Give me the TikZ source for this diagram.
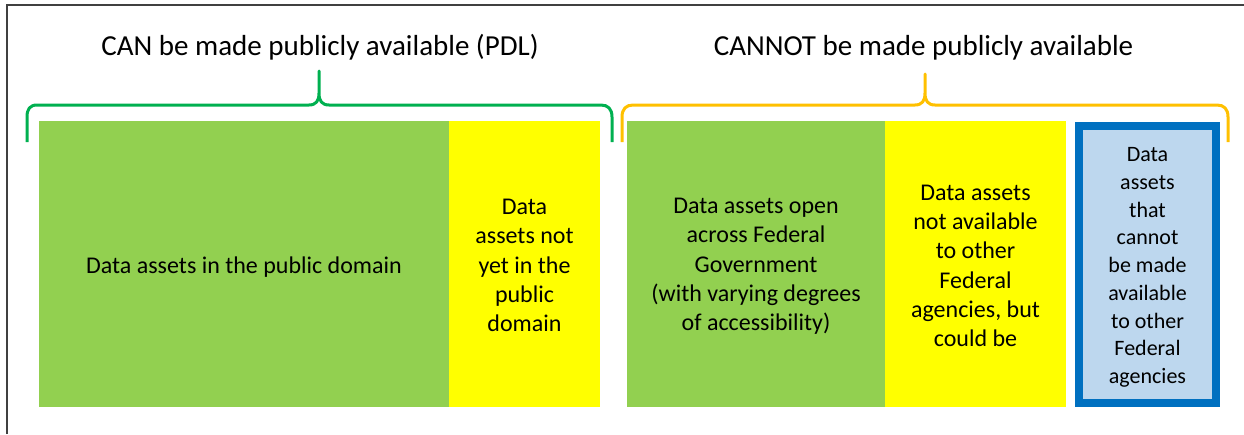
\documentclass[tikz,border=0pt]{standalone}
\usepackage{fontspec}
\setmainfont{Carlito}
\definecolor{leafgreen}{HTML}{92D050}
\definecolor{brightyellow}{HTML}{FFFF00}
\definecolor{paleblue}{HTML}{BDD7EE}
\definecolor{deepblue}{HTML}{0070C0}
\definecolor{bracegreen}{HTML}{00B050}
\definecolor{braceorange}{HTML}{FFC000}
\definecolor{framegray}{HTML}{404040}
\begin{document}
\begin{tikzpicture}[x=1pt, y=-1pt,
  tile/.style={inner sep=0pt, outer sep=0pt, minimum height=286pt},
  greentile/.style={tile, fill=leafgreen},
  yellowtile/.style={tile, fill=brightyellow},
  bluetile/.style={tile, fill=paleblue, draw=deepblue, line width=8pt,
    minimum height=277pt},
  caption/.style={inner sep=0pt, align=center, font=\fontsize{24}{29.3}\selectfont},
  smallcaption/.style={caption, font=\fontsize{22}{27.7}\selectfont},
  heading/.style={anchor=base, inner sep=0pt, font=\fontsize{29}{35}\selectfont},
  brace/.style={line width=3pt, line join=round, line cap=butt},
  frame/.style={draw=framegray, line width=2pt}
]
\useasboundingbox (0,0) rectangle (1244,434);

% outer frame (left and top edges)
\draw[frame] (7,434) -- (7,5) -- (1244,5);

% headings
\node[heading] (canhead) at (320,55) {CAN be made publicly available (PDL)};
\node[heading] (cannothead) at (923.5,55) {CANNOT be made publicly available};

% braces
\draw[brace, bracegreen] (27,142) -- (27,117)
  .. controls (27,109) and (30,105) .. (37,105) -- (309,105)
  .. controls (316,105) and (319,101) .. (319,93) -- (319,71)
  -- (319,93) .. controls (319,101) and (322,105) .. (329,105)
  -- (601,105) .. controls (608,105) and (612,109) .. (612,117) -- (612,142);
\draw[brace, braceorange] (622,142) -- (622,117)
  .. controls (622,109) and (626,105) .. (633,105) -- (915,105)
  .. controls (922,105) and (925,101) .. (925,93) -- (925,74)
  -- (925,93) .. controls (925,101) and (928,105) .. (935,105)
  -- (1217,105) .. controls (1224,105) and (1228,109) .. (1228,117) -- (1228,142);

% data asset categories
\node[greentile, minimum width=410pt] (pubdomain) at (244,264) {};
\node[yellowtile, minimum width=151pt] (notyet) at (524.5,264) {};
\node[greentile, minimum width=258pt] (federal) at (756,264) {};
\node[yellowtile, minimum width=181pt] (couldbe) at (975.5,264) {};
\node[bluetile, minimum width=137pt] (restricted) at (1147.5,264.5) {};

% category texts (nudged down a little from the tile centres)
\node[caption] (pubdomaintext) at ([yshift=-3pt]pubdomain.center)
  {Data assets in the public domain};
\node[caption] (notyettext) at ([yshift=-1.5pt]notyet.center)
  {Data\\assets not\\yet in the\\public\\domain};
\node[caption] (federaltext) at ([yshift=-2.5pt]federal.center)
  {Data assets open\\across Federal\\Government\\(with varying degrees\\of accessibility)};
\node[caption] (couldbetext) at ([yshift=-2pt]couldbe.center)
  {Data assets\\not available\\to other\\Federal\\agencies, but\\could be};
\node[smallcaption] (restrictedtext) at ([yshift=-3pt]restricted.center)
  {Data\\assets\\that\\cannot\\be made\\available\\to other\\Federal\\agencies};
\end{tikzpicture}
\end{document}
